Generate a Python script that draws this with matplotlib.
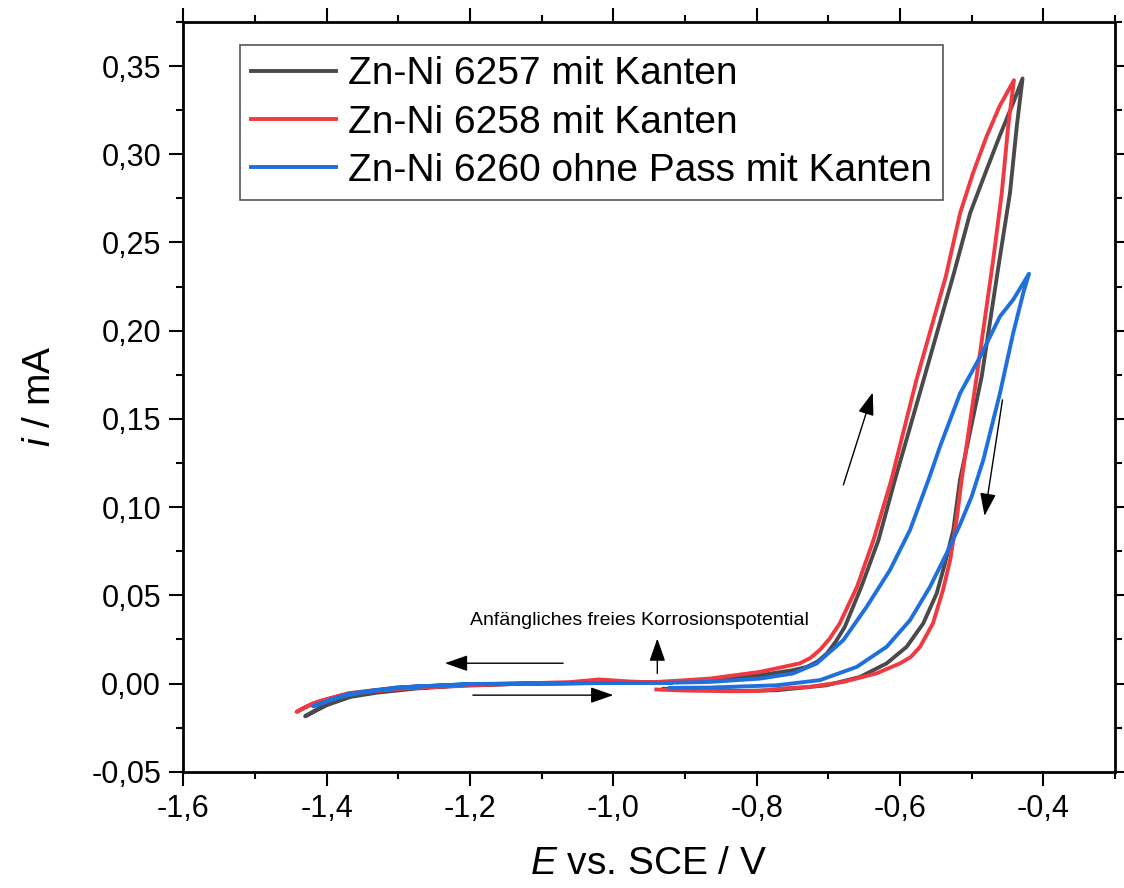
import matplotlib
matplotlib.use("Agg")
import matplotlib.pyplot as plt
from matplotlib.ticker import MultipleLocator, FuncFormatter

plt.rcParams['font.family'] = ['Liberation Sans', 'DejaVu Sans']
plt.rcParams['mathtext.fontset'] = 'custom'
plt.rcParams['mathtext.rm'] = 'Liberation Sans'
plt.rcParams['mathtext.it'] = 'Liberation Sans:italic'

# --- data (E in V vs. SCE, i in mA) ---
labels = ["Zn-Ni 6257 mit Kanten", "Zn-Ni 6258 mit Kanten", "Zn-Ni 6260 ohne Pass mit Kanten"]
colors = ["#4a4a4a", "#ee3a40", "#1f6fdc"]

# Zn-Ni 6257
e_6257_cath = [-0.93, -1.00, -1.10, -1.20, -1.274, -1.33, -1.367, -1.40, -1.43]
i_6257_cath = [0.0003, 0.0003, 0.0000, -0.0008, -0.0028, -0.0052, -0.0076, -0.0123, -0.0186]
e_6257_anod = [-1.43, -1.40, -1.36, -1.30, -1.20, -1.10, -1.00, -0.90, -0.865, -0.795, -0.750,
               -0.730, -0.715, -0.702, -0.690, -0.677, -0.654, -0.630, -0.607, -0.567, -0.526,
               -0.502, -0.479, -0.461, -0.442, -0.429]
i_6257_anod = [-0.0186, -0.0115, -0.0065, -0.0030, -0.0008, 0.0000, 0.0004, 0.0012, 0.0019, 0.0047,
               0.0075, 0.0094, 0.0125, 0.0170, 0.0235, 0.0321, 0.0548, 0.0813, 0.1155, 0.1722,
               0.2308, 0.2668, 0.2914, 0.3103, 0.3292, 0.3430]
e_6257_ret = [-0.429, -0.437, -0.4465, -0.4628, -0.486, -0.5163, -0.5256, -0.5372, -0.5488, -0.5675,
              -0.5907, -0.6186, -0.6558, -0.7023, -0.772, -0.8186, -0.87, -0.93]
i_6257_ret = [0.343, 0.316, 0.2781, 0.236, 0.174, 0.1155, 0.087, 0.0681, 0.0511, 0.0341,
              0.0208, 0.0114, 0.0037, -0.0010, -0.0038, -0.0042, -0.0036, -0.0030]

# Zn-Ni 6258
e_6258_cath = [-0.94, -0.98, -1.02, -1.06, -1.12, -1.20, -1.28, -1.34, -1.38, -1.41, -1.43, -1.442]
i_6258_cath = [0.0005, 0.0012, 0.0023, 0.0008, 0.0001, -0.0012, -0.0025, -0.0045, -0.0068, -0.0100,
               -0.0135, -0.0161]
e_6258_anod = [-1.442, -1.42, -1.37, -1.30, -1.20, -1.10, -1.00, -0.935, -0.865, -0.795, -0.740,
               -0.725, -0.712, -0.698, -0.684, -0.660, -0.637, -0.612, -0.577, -0.536, -0.516,
               -0.498, -0.479, -0.461, -0.441]
i_6258_anod = [-0.0161, -0.0114, -0.0055, -0.0022, -0.0004, 0.0000, 0.0005, 0.0009, 0.0028, 0.0066,
               0.0114, 0.0145, 0.0189, 0.0255, 0.0341, 0.0548, 0.0813, 0.1155, 0.1722, 0.2308,
               0.2668, 0.2895, 0.3103, 0.3273, 0.3420]
e_6258_ret = [-0.441, -0.449, -0.458, -0.470, -0.493, -0.514, -0.521, -0.530, -0.540, -0.554, -0.572,
              -0.585, -0.600, -0.633, -0.679, -0.726, -0.763, -0.795, -0.833, -0.90, -0.940]
i_6258_ret = [0.342, 0.316, 0.278, 0.240, 0.174, 0.1155, 0.0927, 0.070, 0.053, 0.0341, 0.0208,
              0.0150, 0.0114, 0.0057, 0.0009, -0.0019, -0.0028, -0.0042, -0.0044, -0.0040, -0.0034]

# Zn-Ni 6260
e_6260_cath = [-0.92, -1.00, -1.10, -1.20, -1.28, -1.34, -1.38, -1.419]
i_6260_cath = [0.0003, 0.0003, 0.0001, -0.0003, -0.0018, -0.0042, -0.0075, -0.0129]
e_6260_anod = [-1.419, -1.40, -1.367, -1.30, -1.20, -1.10, -1.00, -0.935, -0.865, -0.795, -0.749,
               -0.716, -0.679, -0.6465, -0.614, -0.586, -0.558, -0.5442, -0.516, -0.488, -0.4605,
               -0.442, -0.420]
i_6260_anod = [-0.0129, -0.0100, -0.0057, -0.0022, -0.0004, 0.0001, 0.0003, 0.0003, 0.0009, 0.0028,
               0.0057, 0.0114, 0.0246, 0.0435, 0.0643, 0.0870, 0.1180, 0.1343, 0.1646, 0.1854,
               0.2081, 0.2176, 0.2323]
e_6260_ret = [-0.420, -0.428, -0.442, -0.4605, -0.4837, -0.500, -0.5163, -0.5349, -0.5581, -0.586,
              -0.6186, -0.6604, -0.7116, -0.772, -0.8651, -0.921]
i_6260_ret = [0.2323, 0.2214, 0.1987, 0.1646, 0.1268, 0.1060, 0.0900, 0.0738, 0.0548, 0.0359,
              0.0208, 0.0094, 0.0019, -0.0010, -0.0023, -0.0025]

series_e = [e_6257_cath + e_6257_anod + e_6257_ret,
            e_6258_cath + e_6258_anod + e_6258_ret,
            e_6260_cath + e_6260_anod + e_6260_ret]
series_i = [i_6257_cath + i_6257_anod + i_6257_ret,
            i_6258_cath + i_6258_anod + i_6258_ret,
            i_6260_cath + i_6260_anod + i_6260_ret]

# --- figure ---
fig = plt.figure(figsize=(11.24, 8.88), dpi=100)
ax = fig.add_axes([183.3 / 1124, (888 - 771.7) / 888, (1115 - 183.3) / 1124, (771.7 - 22) / 888])

for e, i, c, lab in zip(series_e, series_i, colors, labels):
    ax.plot(e, i, color=c, lw=2.8, label=lab, solid_joinstyle='round')

ax.set_xlim(-1.6, -0.3)
ax.set_ylim(-0.05, 0.375)

ax.xaxis.set_major_locator(MultipleLocator(0.2))
ax.xaxis.set_minor_locator(MultipleLocator(0.1))
ax.yaxis.set_major_locator(MultipleLocator(0.05))
ax.yaxis.set_minor_locator(MultipleLocator(0.025))
ax.xaxis.set_major_formatter(FuncFormatter(lambda v, p: f"{v:.1f}".replace(".", ",")))
ax.yaxis.set_major_formatter(FuncFormatter(lambda v, p: ("0,00" if abs(v) < 1e-9 else f"{v:.2f}".replace(".", ","))))

ax.tick_params(which='both', direction='out', top=True, right=True, width=1.5, labelsize=22)
ax.tick_params(which='major', length=10, pad=6)
ax.tick_params(which='minor', length=5)
for s in ax.spines.values():
    s.set_linewidth(2)

ax.set_xlabel("$E$ vs. SCE / V", fontsize=28, labelpad=16)
ax.set_ylabel("$i$ / mA", fontsize=28, labelpad=24)

leg = ax.legend(loc='upper left', bbox_to_anchor=(0.0609, 0.969), borderaxespad=0, fontsize=28,
                frameon=True, fancybox=False, edgecolor='#555555', framealpha=1,
                handlelength=2.2, handletextpad=0.3, labelspacing=0.32, borderpad=0.28)
leg.get_frame().set_linewidth(1.2)

# annotations
arrow_kw = dict(arrowstyle='-|>,head_length=1.0,head_width=0.35', color='black', lw=1.0,
                mutation_scale=14, shrinkA=0, shrinkB=0)
ax.annotate('', xy=(-1.235, 0.0115), xytext=(-1.070, 0.0115), arrowprops=arrow_kw)
ax.annotate('', xy=(-1.000, -0.0066), xytext=(-1.196, -0.0066), arrowprops=arrow_kw)
ax.annotate('', xy=(-0.9386, 0.0255), xytext=(-0.9386, 0.0057), arrowprops=arrow_kw)
ax.annotate('', xy=(-0.638, 0.165), xytext=(-0.679, 0.1126), arrowprops=arrow_kw)
ax.annotate('', xy=(-0.482, 0.095), xytext=(-0.457, 0.1608), arrowprops=arrow_kw)
ax.text(-0.964, 0.0357, "Anfängliches freies Korrosionspotential", fontsize=14,
        ha='center', va='center')

fig.savefig("out.png", dpi=100)
